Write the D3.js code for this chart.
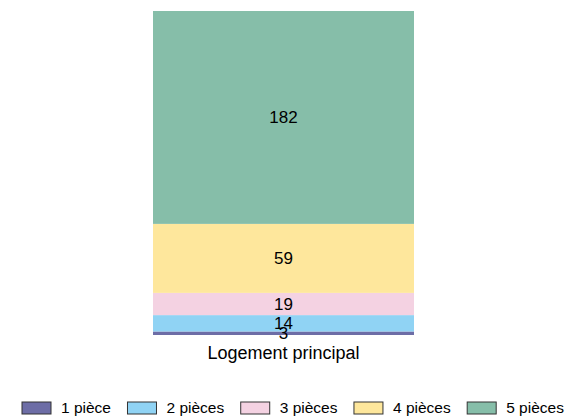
<!DOCTYPE html>
<html>
<head>
<meta charset="utf-8">
<script src="https://cdn.jsdelivr.net/npm/d3@7"></script>
<style>
  body { margin: 0; background: #fff; }
  svg text { font-family: "Liberation Sans", Arial, sans-serif; }
</style>
</head>
<body>
<svg id="svg"></svg>
<script>
// data
const categories = ["Logement principal"];
const seriesNames = ["1 pièce", "2 pièces", "3 pièces", "4 pièces", "5 pièces"];
const seriesValues = [3, 14, 19, 59, 182];
const seriesColors = ["#6d6da6", "#90d3f4", "#f4d2e2", "#fee79c", "#86bea9"];

const width = 567;
const height = 419;

let svg = d3.select("#svg").attr("width", width).attr("height", height);

const margin = { top: 11, right: 153, bottom: 84, left: 153 };
const plotBottom = height - margin.bottom;

let xScale = d3.scaleBand()
    .domain(categories)
    .range([margin.left, width - margin.right])
    .padding(0);

let total = d3.sum(seriesValues);
let yScale = d3.scaleLinear()
    .domain([0, total])
    .range([plotBottom, margin.top]);

// build stacked rows
let row = { cat: categories[0] };
seriesNames.forEach((s, i) => row[s] = seriesValues[i]);
let stacked = d3.stack().keys(seriesNames)([row]);

let layers = svg.selectAll(".layer")
    .data(stacked)
    .enter().append("g")
    .attr("class", "layer")
    .attr("fill", (d, i) => seriesColors[i]);

layers.selectAll("rect")
    .data(d => d)
    .enter().append("rect")
    .attr("x", d => xScale(d.data.cat))
    .attr("width", xScale.bandwidth())
    .attr("y", d => yScale(d[1]))
    .attr("height", d => yScale(d[0]) - yScale(d[1]));

// value labels
stacked.forEach((layer, i) => {
    layer.forEach(d => {
        svg.append("text")
            .attr("x", xScale(d.data.cat) + xScale.bandwidth() / 2)
            .attr("y", (yScale(d[0]) + yScale(d[1])) / 2)
            .attr("dy", "0.35em")
            .attr("text-anchor", "middle")
            .style("font-size", "17px")
            .attr("fill", "#000")
            .text(seriesValues[i]);
    });
});

// x axis (no ticks, just the label)
let xAxis = svg.append("g")
    .attr("transform", `translate(0,${plotBottom})`)
    .call(d3.axisBottom(xScale).tickSize(0).tickPadding(11));
xAxis.select(".domain").remove();
xAxis.selectAll("text")
    .style("font-size", "18px")
    .style("font-family", "'Liberation Sans', Arial, sans-serif")
    .attr("fill", "#000");

// legend
const legendY = 402;
let legend = svg.append("g");
let lx = 22;
seriesNames.forEach((s, i) => {
    let g = legend.append("g").attr("transform", `translate(${lx},${legendY})`);
    g.append("rect")
        .attr("width", 29)
        .attr("height", 12)
        .attr("fill", seriesColors[i])
        .attr("stroke", "#333")
        .attr("stroke-width", 1);
    let t = g.append("text")
        .attr("x", 39)
        .attr("y", 6)
        .attr("dy", "0.35em")
        .style("font-size", "15.5px")
        .attr("fill", "#000")
        .text(s);
    lx += 39 + t.node().getComputedTextLength() + 16.5;
});
</script>
</body>
</html>
